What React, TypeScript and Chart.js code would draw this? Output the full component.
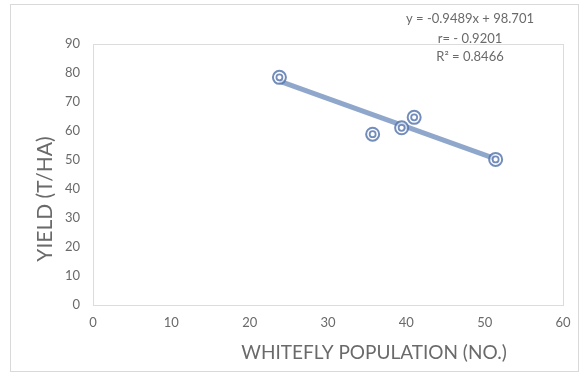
import React, { useEffect, useRef } from "react";
import { Chart, registerables } from "chart.js";

Chart.register(...registerables);

// Data
const whitefly = [23.8, 35.7, 39.4, 41.0, 51.4];
const yieldTHa = [78.5, 58.9, 61.1, 64.7, 50.2];
// Trendline end points (as drawn in the picture)
const trendX = [23.8, 51.4];
const trendY = [77.2, 50.4];
const equationLines = ["y = -0.9489x + 98.701", "r= - 0.9201", "R² = 0.8466"];
const xTitle = "WHITEFLY POPULATION (NO.)";
const yTitle = "YIELD (T/HA)";

const FONT = "Lato, 'Open Sans', sans-serif";
const TEXT = "#6a6a6a";

const decorPlugin = {
  id: "decor",
  beforeDatasetsDraw(chart: any) {
    const { ctx, chartArea } = chart;
    ctx.save();
    ctx.strokeStyle = "#dcdcdc";
    ctx.lineWidth = 1;
    ctx.strokeRect(
      Math.round(chartArea.left) + 0.5,
      Math.round(chartArea.top) + 0.5,
      Math.round(chartArea.right - chartArea.left),
      Math.round(chartArea.bottom - chartArea.top)
    );
    ctx.restore();
  },
  afterDraw(chart: any) {
    const { ctx } = chart;
    ctx.save();
    ctx.fillStyle = TEXT;
    ctx.textAlign = "center";
    ctx.textBaseline = "middle";
    ctx.font = `19px ${FONT}`;
    ctx.fillText(xTitle, 374, 353);
    ctx.save();
    ctx.translate(45, 199);
    ctx.rotate(-Math.PI / 2);
    ctx.font = `21px ${FONT}`;
    ctx.fillText(yTitle, 0, 0);
    ctx.restore();
    ctx.font = `13px ${FONT}`;
    const ys = [19, 39, 57];
    equationLines.forEach((t, i) => ctx.fillText(t, 470, ys[i]));
    ctx.restore();
  },
};

export default function App() {
  const ref = useRef<HTMLCanvasElement | null>(null);
  useEffect(() => {
    if (!ref.current) return;
    const pts = whitefly.map((x, i) => ({ x, y: yieldTHa[i] }));
    const trend = trendX.map((x, i) => ({ x, y: trendY[i] }));
    const markerColor = "rgba(80,112,170,0.8)";
    const chart = new Chart(ref.current, {
      type: "scatter",
      data: {
        datasets: [
          {
            label: "outer",
            data: pts,
            pointRadius: 6.5,
            pointBorderWidth: 2,
            pointBorderColor: markerColor,
            pointBackgroundColor: "rgba(255,255,255,0.6)",
            order: 2,
          },
          {
            label: "inner",
            data: pts,
            pointRadius: 3,
            pointBorderWidth: 1.8,
            pointBorderColor: markerColor,
            pointBackgroundColor: "#ffffff",
            order: 1,
          },
          {
            type: "line",
            label: "trend",
            data: trend,
            showLine: true,
            borderColor: "rgba(125,152,195,0.85)",
            borderWidth: 5,
            pointRadius: 0,
            order: 3,
          } as any,
        ],
      },
      options: {
        animation: false,
        responsive: false,
        maintainAspectRatio: false,
        layout: { padding: { left: 0, top: 44, right: 18, bottom: 0 } },
        plugins: {
          legend: { display: false },
          tooltip: { enabled: false },
        },
        scales: {
          x: {
            type: "linear",
            min: 0,
            max: 60,
            ticks: {
              stepSize: 10,
              color: TEXT,
              font: { family: FONT, size: 13 },
              padding: 10,
            },
            grid: { display: false, drawTicks: false },
            border: { display: false },
            afterFit(s: any) {
              s.height = 70;
            },
          },
          y: {
            type: "linear",
            min: 0,
            max: 90,
            ticks: {
              stepSize: 10,
              color: TEXT,
              font: { family: FONT, size: 13 },
              padding: 13,
            },
            grid: { display: false, drawTicks: false },
            border: { display: false },
            afterFit(s: any) {
              s.width = 93;
            },
          },
        },
      },
      plugins: [decorPlugin],
    });
    return () => chart.destroy();
  }, []);
  return (
    <div
      style={{
        position: "fixed",
        left: 0,
        top: 0,
        width: 581,
        height: 375,
        background: "#fff",
      }}
    >
      <div
        style={{
          position: "absolute",
          left: 10,
          top: 4,
          width: 569,
          height: 368,
          border: "1px solid #d9d9d9",
          boxSizing: "border-box",
        }}
      />
      <canvas
        ref={ref}
        width={581}
        height={375}
        style={{ position: "absolute", left: 0, top: 0, width: 581, height: 375 }}
      />
    </div>
  );
}
